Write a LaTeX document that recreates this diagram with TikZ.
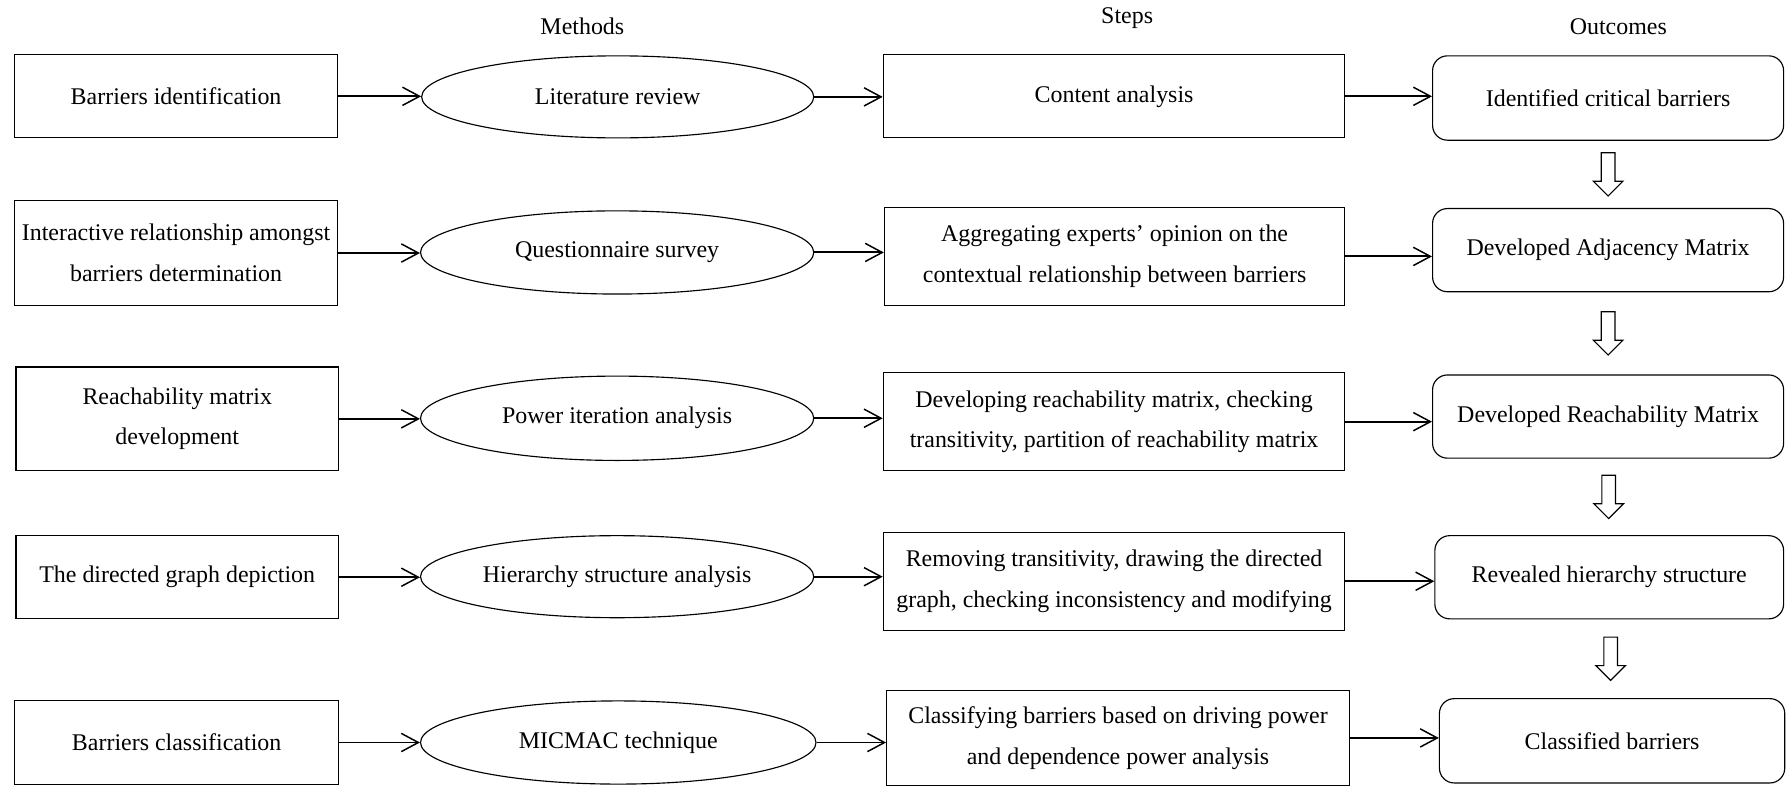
\documentclass[tikz,border=0pt]{standalone}
\usepackage{fontspec}
\setmainfont{Liberation Serif}
\usetikzlibrary{arrows.meta,shapes.geometric,calc}
\begin{document}
\begin{tikzpicture}[x=1pt,y=-1pt,
  every node/.style={font=\fontsize{21}{35.5}\selectfont, align=center, inner sep=0pt},
  sqbox/.style={draw, line width=1pt, rectangle},
  ellbox/.style={draw, line width=1pt, ellipse},
  rndbox/.style={draw, line width=1pt, rectangle, rounded corners=13pt},
  conn/.style={line width=1.7pt, -{Straight Barb[length=15pt,width=16pt,line width=1.3pt]}},
  hollow/.style={draw, line width=1pt, fill=white, line join=miter}
]
\useasboundingbox (0,0) rectangle (1568,689);

% headers
\node (hm) at (511,23) {Methods};
\node (hs) at (989,16) {Steps};
\node (ho) at (1420,23) {Outcomes};

% row 1
\node[sqbox, minimum width=283pt, minimum height=73pt] (b1) at (154.5,84.5) {Barriers identification};
\node[ellbox, minimum width=344pt, minimum height=72pt] (m1) at (542,85) {Literature review};
\node[sqbox, minimum width=405pt, minimum height=73pt] (s1) at (977.5,84.5) {Content analysis};
\node[rndbox, minimum width=308pt, minimum height=74pt] (o1) at (1411,86) {Identified critical barriers};

% row 2
\node[sqbox, minimum width=283pt, minimum height=92pt] (b2) at (154.5,222) {Interactive relationship amongst\\barriers determination};
\node[ellbox, minimum width=345pt, minimum height=73pt] (m2) at (541.5,221.5) {Questionnaire survey};
\node[sqbox, minimum width=404pt, minimum height=86pt] (s2) at (978,225) {Aggregating experts’ opinion on the\\contextual relationship between barriers};
\node[rndbox, minimum width=308pt, minimum height=73pt] (o2) at (1411,219.5) {Developed Adjacency Matrix};

% row 3
\node[sqbox, minimum width=283pt, minimum height=91pt] (b3) at (155.5,367.5) {Reachability matrix\\development};
\node[ellbox, minimum width=345pt, minimum height=74pt] (m3) at (541.5,367) {Power iteration analysis};
\node[sqbox, minimum width=405pt, minimum height=86pt] (s3) at (977.5,370) {Developing reachability matrix, checking\\transitivity, partition of reachability matrix};
\node[rndbox, minimum width=308pt, minimum height=73pt] (o3) at (1411,365.5) {Developed Reachability Matrix};

% row 4
\node[sqbox, minimum width=283pt, minimum height=73pt] (b4) at (155.5,506.5) {The directed graph depiction};
\node[ellbox, minimum width=345pt, minimum height=72pt] (m4) at (541.5,506) {Hierarchy structure analysis};
\node[sqbox, minimum width=405pt, minimum height=86pt] (s4) at (977.5,510) {Removing transitivity, drawing the directed\\graph, checking inconsistency and modifying};
\node[rndbox, minimum width=306pt, minimum height=73pt] (o4) at (1412,506.5) {Revealed hierarchy structure};

% row 5
\node[sqbox, minimum width=284pt, minimum height=73pt] (b5) at (155,651.5) {Barriers classification};
\node[ellbox, minimum width=347pt, minimum height=73pt] (m5) at (542.5,651.5) {MICMAC technique};
\node[sqbox, minimum width=406pt, minimum height=83pt] (s5) at (981,647.5) {Classifying barriers based on driving power\\and dependence power analysis};
\node[rndbox, minimum width=303pt, minimum height=74pt] (o5) at (1414.5,650) {Classified barriers};

% horizontal connectors
\foreach \i in {1,...,5} {
  \draw[conn] (b\i.east) -- (b\i.east -| m\i.west);
  \draw[conn] (m\i.east) -- (m\i.east -| s\i.west);
  \draw[conn] (s\i.east) -- (s\i.east -| o\i.west);
}

% hollow down arrows
\foreach \a/\b in {o1/o2,o2/o3,o3/o4,o4/o5} {
  \coordinate (mid\a) at ($(\a.south)!0.5!(\b.north)$);
  \draw[hollow] ($(mid\a)+(-6,-19)$) -- ($(mid\a)+(-6,6)$) -- ($(mid\a)+(-13,6)$) -- ($(mid\a)+(0,19)$) -- ($(mid\a)+(13,6)$) -- ($(mid\a)+(6,6)$) -- ($(mid\a)+(6,-19)$) -- cycle;
}
\end{tikzpicture}
\end{document}
